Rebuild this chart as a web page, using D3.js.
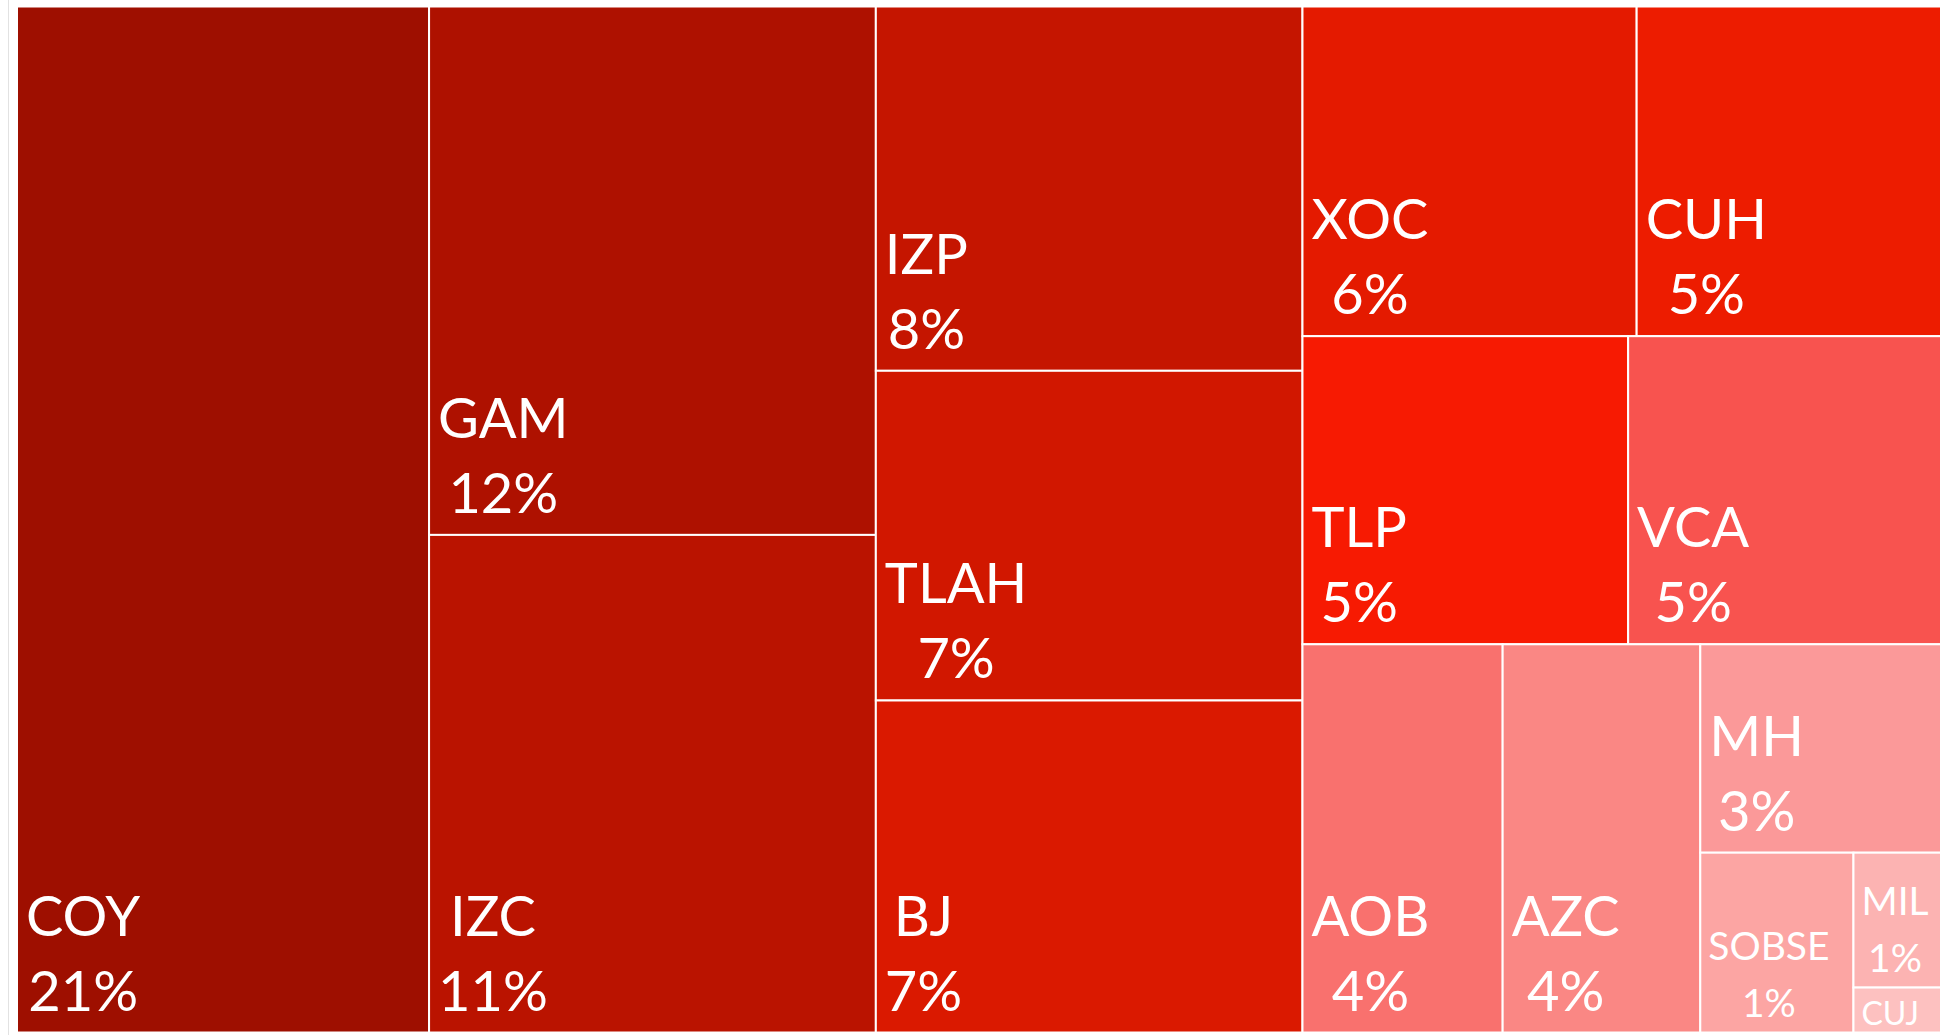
<!DOCTYPE html>
<html>
<head>
<meta charset="utf-8">
<script src="https://cdn.jsdelivr.net/npm/d3@7"></script>
<style>
  html, body { margin: 0; padding: 0; background: #ffffff; overflow: hidden; }
  svg { display: block; }
</style>
</head>
<body>
<svg id="chart" width="1941" height="1035"></svg>
<script>
// Share of total by alcaldía (percent)
const categories = ["COY", "GAM", "IZC", "IZP", "TLAH", "BJ", "XOC", "CUH", "TLP", "VCA", "AOB", "AZC", "MH", "SOBSE", "MIL", "CUJ"];
const shares     = [21.49, 12.0, 11.3, 7.9, 7.15, 7.2, 5.6, 5.1, 5.1, 4.9, 3.95, 3.9, 2.55, 1.4, 0.6, 0.2];

// Fill for each cell, dark red to pale pink
const palette = ["#9e0f00", "#ae1100", "#ba1300", "#c51500", "#d11700", "#da1900",
                 "#e41a00", "#ed1c00", "#f71a02", "#f8534f", "#f9716e", "#fa8784",
                 "#fb9999", "#fca5a3", "#fcb3b2", "#fdc1c0"];

const W = 1941, H = 1035;
const plot = { x: 17, y: 6.5, w: 1924, h: 1026 };
const total = d3.sum(shares);

// Row-based squarified tiling with an adjustable aspect target (ratio may be < 1)
function rowTile(ratio) {
  return function (parent, x0, y0, x1, y1) {
    const nodes = parent.children, n = nodes.length;
    let value = parent.value, i0 = 0, i1 = 0;
    while (i0 < n) {
      const dx = x1 - x0, dy = y1 - y0;
      let sum = nodes[i1++].value, minV = sum, maxV = sum;
      const alpha = Math.max(dy / dx, dx / dy) / (value * ratio);
      let beta = sum * sum * alpha;
      let minRatio = Math.max(maxV / beta, beta / minV);
      for (; i1 < n; ++i1) {
        const v = nodes[i1].value;
        sum += v;
        if (v < minV) minV = v;
        if (v > maxV) maxV = v;
        beta = sum * sum * alpha;
        const r = Math.max(maxV / beta, beta / minV);
        if (r > minRatio) { sum -= v; break; }
        minRatio = r;
      }
      const row = { value: sum, children: nodes.slice(i0, i1) };
      if (dx < dy) d3.treemapDice(row, x0, y0, x1, y0 += dy * sum / value);
      else d3.treemapSlice(row, x0, y0, x0 += dx * sum / value, y1);
      value -= sum;
      i0 = i1;
    }
  };
}

const root = d3.hierarchy({
  children: categories.map((name, i) => ({ name, value: shares[i], color: palette[i] }))
}).sum(d => d.value || 0);

d3.treemap()
  .size([plot.w, plot.h])
  .tile(rowTile(0.8337))(root);

const svg = d3.select("#chart");

// faint frame line on the left
svg.append("line")
  .attr("x1", 8.5).attr("x2", 8.5)
  .attr("y1", 0).attr("y2", H)
  .attr("stroke", "#e2e2e2").attr("stroke-width", 1);

const g = svg.append("g").attr("transform", `translate(${plot.x},${plot.y})`);
const fmt = v => Math.round(v / total * 100) + "%";

const leaves = root.leaves();
const cell = g.selectAll("g.cell").data(leaves).join("g").attr("class", "cell");

cell.append("clipPath")
  .attr("id", (d, i) => "clip" + i)
  .append("rect")
  .attr("x", d => d.x0).attr("y", d => d.y0)
  .attr("width", d => d.x1 - d.x0).attr("height", d => d.y1 - d.y0);

cell.append("rect")
  .attr("x", d => d.x0).attr("y", d => d.y0)
  .attr("width", d => d.x1 - d.x0).attr("height", d => d.y1 - d.y0)
  .attr("fill", d => d.data.color)
  .attr("stroke", "#ffffff").attr("stroke-width", 2);

// label size tier depends on the room inside the cell
function tier(d) {
  const w = d.x1 - d.x0, h = d.y1 - d.y0;
  if (w >= 170 && h >= 170) return { fs: 56, lh: 75, bottom: 22, left: 9, twoLines: true };
  if (h >= 100) return { fs: 39, lh: 57, bottom: 16, left: 8, twoLines: true };
  return { fs: 32, lh: 0, bottom: 8, left: 8, twoLines: false };
}

cell.each(function (d, i) {
  const t = tier(d);
  const lbl = d3.select(this).append("g").attr("clip-path", `url(#clip${i})`)
    .attr("font-family", "Lato, 'Open Sans', sans-serif")
    .attr("font-size", t.fs)
    .attr("fill", "#ffffff")
    .attr("text-anchor", "middle");
  const lines = t.twoLines ? [d.data.name, fmt(d.value)] : [d.data.name];
  const lastBase = d.y1 - t.bottom;
  const texts = lines.map((s, k) =>
    lbl.append("text").attr("y", lastBase - (lines.length - 1 - k) * t.lh).text(s));
  const wMax = d3.max(texts, tx => tx.node().getComputedTextLength());
  const cx = d.x0 + t.left + wMax / 2;
  texts.forEach(tx => tx.attr("x", cx));
});
</script>
</body>
</html>
